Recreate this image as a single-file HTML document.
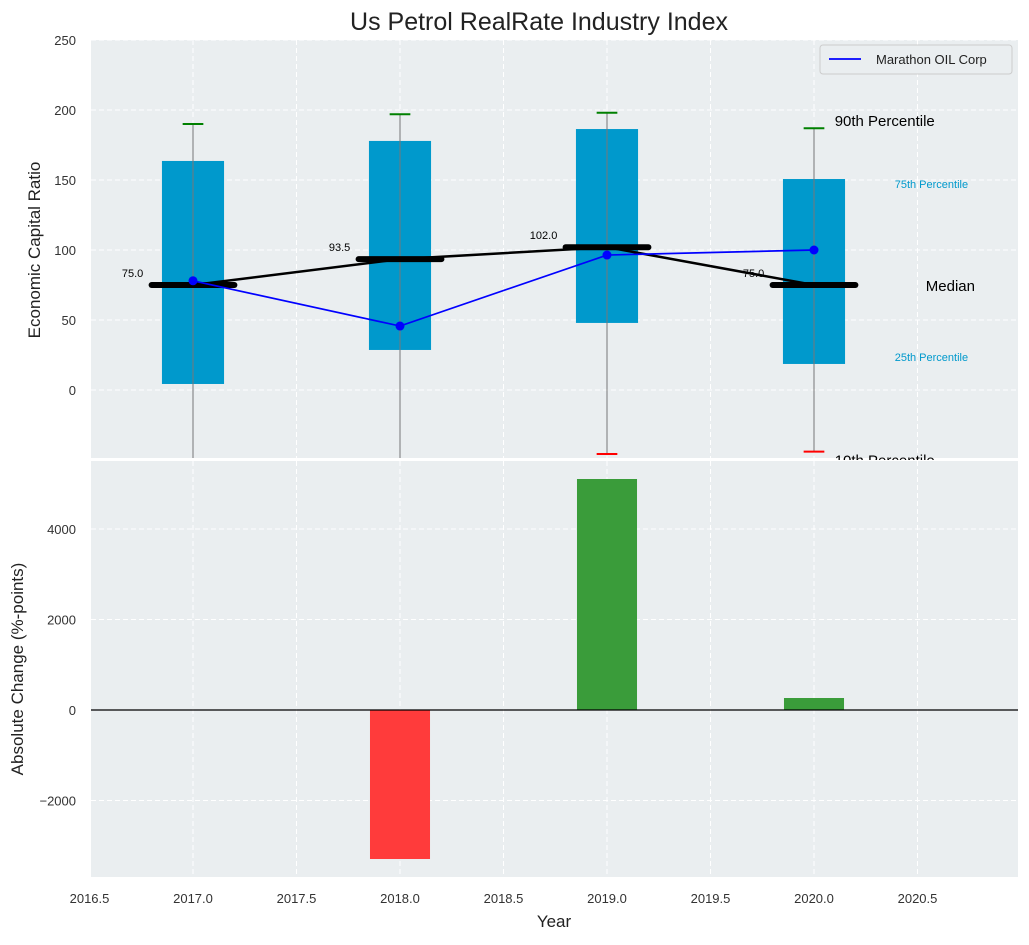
<!DOCTYPE html>
<html><head><meta charset="utf-8"><style>
body{margin:0;background:#fff;font-family:"Liberation Sans","DejaVu Sans",sans-serif;}
</style></head><body>
<svg id="c" width="1029" height="940" xmlns="http://www.w3.org/2000/svg" font-family="Liberation Sans, DejaVu Sans, sans-serif"></svg>
<script>
const years=[2017,2018,2019,2020];
const p90=[190,197,198,187];
const p75=[163.6,177.9,186.4,150.7];
const p50=[75,93.5,102,75];
const p25=[4.3,28.6,47.9,18.6];
const p10=[-60,-60,-45.7,-44];
const company=[78,45.7,96.4,100];
const changes=[0,-3293,5105,265];
const xTicks=[2016.5,2017.0,2017.5,2018.0,2018.5,2019.0,2019.5,2020.0,2020.5];
const yTopTicks=[0,50,100,150,200,250];
const yBotTicks=[-2000,0,2000,4000];

const NS="http://www.w3.org/2000/svg";
const svg=document.getElementById('c');
function el(t,a,p){const e=document.createElementNS(NS,t);for(const k in a)e.setAttribute(k,a[k]);(p||svg).appendChild(e);return e;}
const L=91,R=1018;
const X=v=>193+(v-2017)*207;
const T0=40,T1=458,B0=461,B1=877;
const YT=v=>390-v*1.4;
const YB=v=>710-v*0.04525;

const defs=el('defs',{});
const c1=el('clipPath',{id:'ct'},defs);el('rect',{x:L,y:T0,width:R-L,height:T1-T0},c1);
const c2=el('clipPath',{id:'cb'},defs);el('rect',{x:L,y:B0,width:R-L,height:B1-B0},c2);
const c3=el('clipPath',{id:'cl'},defs);el('rect',{x:0,y:0,width:1029,height:460},c3);

let bg=el('rect',{x:L,y:T0,width:R-L,height:T1-T0,fill:'#eaeef0'});

let bg2=el('rect',{x:L,y:B0,width:R-L,height:B1-B0,fill:'#eaeef0'});


xTicks.forEach(t=>{
  el('line',{x1:X(t),x2:X(t),y1:T0,y2:T1,stroke:'#fff','stroke-dasharray':'5,3','stroke-width':1});
  el('line',{x1:X(t),x2:X(t),y1:B0,y2:B1,stroke:'#fff','stroke-dasharray':'5,3','stroke-width':1});
  const tx=el('text',{x:X(t),y:903,'text-anchor':'middle','font-size':13,fill:'#333'});tx.textContent=t.toFixed(1);
  
});
yTopTicks.forEach(t=>{
  el('line',{x1:L,x2:R,y1:YT(t),y2:YT(t),stroke:'#fff','stroke-dasharray':'5,3'});
  const tx=el('text',{x:76,y:YT(t)+5,'text-anchor':'end','font-size':13,fill:'#333'});tx.textContent=t;
  
});
yBotTicks.forEach(t=>{
  el('line',{x1:L,x2:R,y1:YB(t),y2:YB(t),stroke:'#fff','stroke-dasharray':'5,3'});
  const tx=el('text',{x:76,y:YB(t)+5,'text-anchor':'end','font-size':13,fill:'#333'});tx.textContent=(t<0?'\u2212'+(-t):t);
  
});

const gt=el('g',{'clip-path':'url(#ct)'});

years.forEach((y,i)=>{
  const b=el('rect',{x:X(y-0.15),y:YT(p75[i]),width:X(y+0.15)-X(y-0.15),height:YT(p25[i])-YT(p75[i]),fill:'#0099cc'},gt);
  
  el('line',{x1:X(y),x2:X(y),y1:YT(p90[i]),y2:YT(p10[i]),stroke:'#777','stroke-width':1},gt);
  el('line',{x1:X(y-0.05),x2:X(y+0.05),y1:YT(p90[i]),y2:YT(p90[i]),stroke:'green','stroke-width':2},gt);
  el('line',{x1:X(y-0.05),x2:X(y+0.05),y1:YT(p10[i]),y2:YT(p10[i]),stroke:'red','stroke-width':2},gt);
});
el('polyline',{points:years.map((y,i)=>X(y)+','+YT(p50[i])).join(' '),fill:'none',stroke:'#000','stroke-width':2.5},gt);
years.forEach((y,i)=>{
  const m=el('line',{x1:X(y-0.2),x2:X(y+0.2),y1:YT(p50[i]),y2:YT(p50[i]),stroke:'#000','stroke-width':6,'stroke-linecap':'round'},gt);
  
  const t=el('text',{x:X(y-0.24),y:YT(p50[i])-8,'text-anchor':'end','font-size':11,fill:'#000'},gt);t.textContent=p50[i].toFixed(1);
});
const cl=el('polyline',{points:years.map((y,i)=>X(y)+','+YT(company[i])).join(' '),fill:'none',stroke:'blue','stroke-width':1.7},gt);

years.forEach((y,i)=>{const p=el('circle',{cx:X(y),cy:YT(company[i]),r:4.5,fill:'blue'},gt);
  });
const li=years.length-1;
const gl=el('g',{'clip-path':'url(#cl)'});
function lab(txt,x,y,fs,col,nm){const t=el('text',{x:x,y:y,'font-size':fs,fill:col},gl);t.textContent=txt;return t;}
lab('90th Percentile',X(2020.1),YT(p90[li])-2,15,'#000','label-90th');
lab('75th Percentile',X(2020.39),YT(p75[li])+9,11,'#0099cc','label-75th');
lab('Median',X(2020.54),YT(p50[li])+6,15,'#000','label-median');
lab('25th Percentile',X(2020.39),YT(p25[li])-3,11,'#0099cc','label-25th');
lab('10th Percentile',X(2020.1),YT(p10[li])+14,15,'#000','label-10th');

const lg=el('g',{});
el('rect',{x:820,y:45,width:192,height:29,rx:3,fill:'#eaeef0',stroke:'#ccc'},lg);
el('line',{x1:829,x2:861,y1:59,y2:59,stroke:'blue','stroke-width':1.7},lg);
const lt=el('text',{x:876,y:64,'font-size':13,fill:'#222'},lg);lt.textContent='Marathon OIL Corp';

const gb=el('g',{'clip-path':'url(#cb)'});
years.forEach((y,i)=>{
  const v=changes[i];
  const r=el('rect',{x:X(y-0.145),y:Math.min(YB(v),YB(0)),width:X(y+0.145)-X(y-0.145),height:Math.abs(YB(v)-YB(0)),fill:v>=0?'#3a9c3a':'#ff3b3b'},gb);
  
});
el('line',{x1:L,x2:R,y1:YB(0),y2:YB(0),stroke:'#000','stroke-width':1.2},gb);

const tt=el('text',{x:539,y:30,'text-anchor':'middle','font-size':25,fill:'#222'});tt.textContent='Us Petrol RealRate Industry Index';

const xt=el('text',{x:554,y:927,'text-anchor':'middle','font-size':17,fill:'#222'});xt.textContent='Year';

const y1=el('text',{x:0,y:0,'font-size':17,fill:'#222','text-anchor':'middle',transform:'translate(40,250) rotate(-90)'});y1.textContent='Economic Capital Ratio';

const y2=el('text',{x:0,y:0,'font-size':17,fill:'#222','text-anchor':'middle',transform:'translate(23,669) rotate(-90)'});y2.textContent='Absolute Change (%-points)';

</script>
</body></html>
